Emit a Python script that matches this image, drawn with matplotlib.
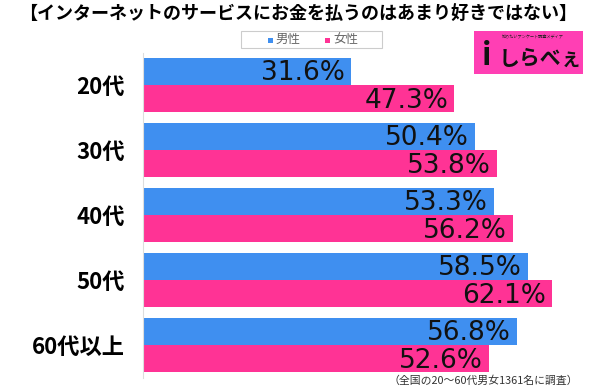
import matplotlib
matplotlib.use("Agg")
import matplotlib.pyplot as plt
from matplotlib.patches import Rectangle

plt.rcParams['font.family'] = ['Noto Sans CJK JP', 'DejaVu Sans']

categories = ["20代", "30代", "40代", "50代", "60代以上"]
male = [31.6, 50.4, 53.3, 58.5, 56.8]
female = [47.3, 53.8, 56.2, 62.1, 52.6]
series_names = ["男性", "女性"]
title = "【インターネットのサービスにお金を払うのはあまり好きではない】"
note = "（全国の20～60代男女1361名に調査）"

blue = "#3f8ff0"
pink = "#ff3395"

fig = plt.figure(figsize=(6, 3.88), dpi=100)
ax = fig.add_axes([143/600, 1-377.5/388, 447/600, 325/388])

h = 0.42
y = list(range(len(categories)))
ax.barh([i - h/2 for i in y], male, height=h, color=blue)
ax.barh([i + h/2 for i in y], female, height=h, color=pink)

for i in y:
    ax.text(male[i] - 0.9, i - h/2 + 0.03, f"{male[i]:.1f}%", ha="right", va="center",
            fontsize=19, color="#111111", family="DejaVu Sans")
    ax.text(female[i] - 0.9, i + h/2 + 0.03, f"{female[i]:.1f}%", ha="right", va="center",
            fontsize=19, color="#111111", family="DejaVu Sans")

ax.set_xlim(0, 447/6.58)
ax.set_ylim(len(categories) - 0.5, -0.5)
ax.set_yticks(y)
ax.set_yticklabels(categories, fontsize=16, fontweight="bold")
ax.tick_params(axis="y", length=0, pad=13)
ax.set_xticks([])
for s in ["top", "right", "bottom"]:
    ax.spines[s].set_visible(False)
ax.spines["left"].set_color("#dddddd")

fig.text(0.497, 1-13/388, title, ha="center", va="center", fontsize=13, fontweight="bold")
fig.text(578/600, 1-381/388, note, ha="right", va="center", fontsize=7.8, color="#333333")

# legend box
fig.patches.append(Rectangle((241/600, 1-48/388), 141/600, 17/388, transform=fig.transFigure,
                             facecolor="white", edgecolor="#cccccc", lw=0.8))
fig.patches.append(Rectangle((268/600, 1-42.5/388), 5/600, 5/388, transform=fig.transFigure,
                             facecolor=blue, edgecolor="none"))
fig.text(276/600, 1-39.5/388, series_names[0], ha="left", va="center", fontsize=9, color="#666666")
fig.patches.append(Rectangle((325/600, 1-42.5/388), 5/600, 5/388, transform=fig.transFigure,
                             facecolor=pink, edgecolor="none"))
fig.text(333/600, 1-39.5/388, series_names[1], ha="left", va="center", fontsize=9, color="#666666")

# logo
fig.patches.append(Rectangle((474/600, 1-74/388), 109/600, 43/388, transform=fig.transFigure,
                             facecolor="#ff3fb4", edgecolor="none"))
fig.text(533/600, 1-36/388, "知りたいアンケート調査メディア", ha="center", va="center", fontsize=3, color="#222222")
fig.text(540/600, 1-58/388, "しらべぇ", ha="center", va="center", fontsize=15, fontweight="bold", color="#111111")
fig.text(487/600, 1-56/388, "i", ha="center", va="center", fontsize=22, fontweight="bold", color="#111111")

fig.savefig("out.png", dpi=100)
